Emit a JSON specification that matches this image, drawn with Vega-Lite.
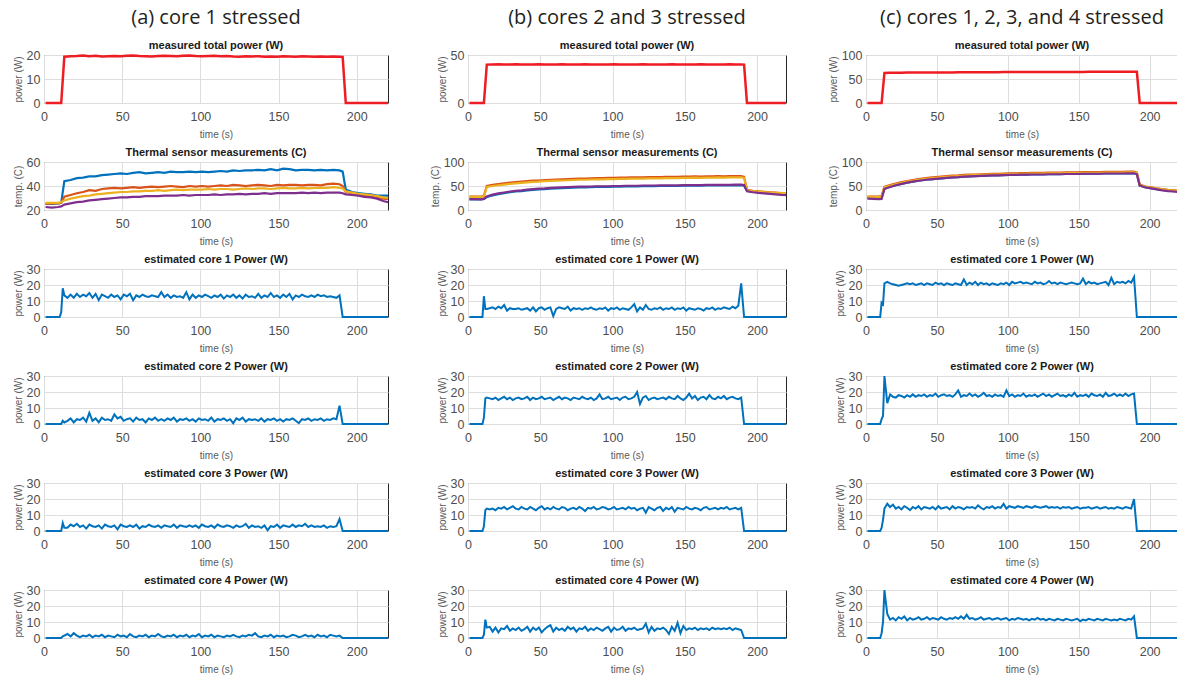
{
"$schema":"https://vega.github.io/schema/vega-lite/v6.json",
"padding":{"left":12,"top":7,"right":0,"bottom":0},
"config":{
 "font":"Liberation Sans",
 "view":{"stroke":"#262626","strokeWidth":1},
 "axis":{"grid":true,"gridColor":"#dedede","ticks":false,"domain":false,"labelFlush":false,"labelOverlap":false,"labelFont":"Liberation Sans","labelFontSize":12.5,"labelColor":"#4d4d4d","titleFont":"Liberation Sans Narrow, Liberation Sans","titleFontSize":10,"titleFontWeight":"normal","titleColor":"#595959"},
 "axisX":{"labelPadding":7,"titlePadding":7},
 "axisY":{"labelPadding":4,"titlePadding":3},
 "title":{"fontSize":11,"fontWeight":"bold","font":"Liberation Sans","color":"#1a1a1a","offset":-2,"anchor":"middle","frame":"group"},
 "line":{"strokeWidth":2,"color":"#0072BD"}
},
"datasets":{
"th":[
{"t":1,"aP":0,"bP":0,"cP":0,"aT1":25,"aT2":25,"aT3":26,"aT4":22.5,"bT1":22,"bT2":28,"bT3":27.5,"bT4":22.5,"cT1":26,"cT2":28,"cT3":27.5,"cT4":23.5},
{"t":5,"aP":0,"bP":0,"cP":0,"aT1":25,"aT2":25.5,"aT3":26,"aT4":22,"bT1":22,"bT2":28,"bT3":27.5,"bT4":22.5,"cT1":26,"cT2":28,"cT3":27.5,"cT4":23},
{"t":9,"aP":0,"bP":0,"cP":0,"aT1":25.5,"aT2":25.5,"aT3":26,"aT4":22.5,"bT1":22,"bT2":28,"bT3":27.5,"bT4":22,"cT1":26,"cT2":28.5,"cT3":27.5,"cT4":22.5},
{"t":11,"aP":0,"bP":0,"cP":0,"aT1":26,"aT2":26,"aT3":26.5,"aT4":23,"bT1":23,"bT2":29,"bT3":28,"bT4":23,"cT1":26.5,"cT2":29,"cT3":28,"cT4":23},
{"t":13,"aP":19.3,"bP":40,"cP":62.5,"aT1":44,"aT2":31,"aT3":28,"aT4":24.5,"bT1":27,"bT2":50,"bT3":48,"bT4":28,"cT1":45,"cT2":48,"cT3":47,"cT4":44},
{"t":17,"aP":19.5,"bP":40.2,"cP":63,"aT1":45,"aT2":32.5,"aT3":29.5,"aT4":25.5,"bT1":30.5,"bT2":52.5,"bT3":50,"bT4":32,"cT1":48.5,"cT2":52,"cT3":50.5,"cT4":48},
{"t":21,"aP":19.6,"bP":40.3,"cP":63.1,"aT1":46.5,"aT2":34,"aT3":30.5,"aT4":26.5,"bT1":33,"bT2":54,"bT3":51.5,"bT4":34.5,"cT1":51.5,"cT2":55,"cT3":53.5,"cT4":51.5},
{"t":25,"aP":19.8,"bP":40.1,"cP":63.2,"aT1":47,"aT2":35,"aT3":31.5,"aT4":27,"bT1":35,"bT2":55.5,"bT3":53,"bT4":36.5,"cT1":54.5,"cT2":58,"cT3":56.5,"cT4":54.5},
{"t":29,"aP":19.5,"bP":40.2,"cP":63.3,"aT1":48,"aT2":36.5,"aT3":32,"aT4":28,"bT1":37,"bT2":57,"bT3":54.5,"bT4":38.5,"cT1":57,"cT2":60.5,"cT3":59,"cT4":57},
{"t":33,"aP":19.7,"bP":40.3,"cP":63.3,"aT1":48,"aT2":36,"aT3":33,"aT4":28.5,"bT1":38.5,"bT2":58,"bT3":55.5,"bT4":40,"cT1":59,"cT2":62.5,"cT3":61,"cT4":59},
{"t":37,"aP":19.4,"bP":40.2,"cP":63.4,"aT1":49,"aT2":37.5,"aT3":33.5,"aT4":29,"bT1":39.5,"bT2":59,"bT3":56.5,"bT4":41,"cT1":61,"cT2":64.5,"cT3":63,"cT4":61},
{"t":41,"aP":19.5,"bP":40.1,"cP":63.5,"aT1":49.5,"aT2":38,"aT3":34,"aT4":29.5,"bT1":41,"bT2":60,"bT3":57.5,"bT4":42.5,"cT1":62.5,"cT2":66,"cT3":64.5,"cT4":62.5},
{"t":45,"aP":19.6,"bP":40.2,"cP":63.6,"aT1":50,"aT2":38.5,"aT3":34.5,"aT4":30,"bT1":42,"bT2":61,"bT3":58.5,"bT4":43.5,"cT1":64,"cT2":67.5,"cT3":66,"cT4":64},
{"t":49,"aP":19.5,"bP":40.3,"cP":63.6,"aT1":50.5,"aT2":38,"aT3":35,"aT4":30.5,"bT1":43,"bT2":61.5,"bT3":59,"bT4":44.5,"cT1":65,"cT2":68.5,"cT3":67,"cT4":65},
{"t":53,"aP":19.7,"bP":40.2,"cP":63.7,"aT1":50,"aT2":38.5,"aT3":35,"aT4":30.5,"bT1":43.5,"bT2":62.5,"bT3":60,"bT4":45,"cT1":66,"cT2":69.5,"cT3":68,"cT4":66},
{"t":57,"aP":19.8,"bP":40.1,"cP":63.8,"aT1":51,"aT2":39,"aT3":35.5,"aT4":31,"bT1":44.5,"bT2":63,"bT3":60.5,"bT4":46,"cT1":67,"cT2":70.5,"cT3":69,"cT4":67},
{"t":61,"aP":19.6,"bP":40.2,"cP":63.8,"aT1":51.5,"aT2":38.5,"aT3":35.5,"aT4":31,"bT1":45,"bT2":63.5,"bT3":61,"bT4":46.5,"cT1":68,"cT2":71.5,"cT3":70,"cT4":68},
{"t":65,"aP":19.5,"bP":40.3,"cP":63.9,"aT1":50.5,"aT2":39,"aT3":36,"aT4":31.5,"bT1":45.5,"bT2":64,"bT3":61.5,"bT4":47,"cT1":68.5,"cT2":72,"cT3":70.5,"cT4":68.5},
{"t":69,"aP":19.4,"bP":40.2,"cP":64,"aT1":51,"aT2":39.5,"aT3":36,"aT4":31.5,"bT1":46,"bT2":64.5,"bT3":62,"bT4":47.5,"cT1":69.5,"cT2":73,"cT3":71.5,"cT4":69.5},
{"t":73,"aP":19.6,"bP":40.2,"cP":64,"aT1":51.5,"aT2":39,"aT3":36.5,"aT4":31.5,"bT1":46.5,"bT2":65,"bT3":62.5,"bT4":48,"cT1":70,"cT2":73.5,"cT3":72,"cT4":70},
{"t":77,"aP":19.7,"bP":40.1,"cP":64.1,"aT1":51,"aT2":39.5,"aT3":36,"aT4":32,"bT1":47,"bT2":65.5,"bT3":63,"bT4":48.5,"cT1":70.5,"cT2":74,"cT3":72.5,"cT4":70.5},
{"t":81,"aP":19.6,"bP":40.3,"cP":64.2,"aT1":52,"aT2":40,"aT3":36.5,"aT4":32,"bT1":47,"bT2":65.5,"bT3":63,"bT4":48.5,"cT1":71,"cT2":74.5,"cT3":73,"cT4":71},
{"t":85,"aP":19.5,"bP":40.2,"cP":64.2,"aT1":51.5,"aT2":39.5,"aT3":37,"aT4":32,"bT1":47.5,"bT2":66,"bT3":63.5,"bT4":49,"cT1":71.5,"cT2":75,"cT3":73.5,"cT4":71.5},
{"t":89,"aP":19.7,"bP":40.2,"cP":64.3,"aT1":51.5,"aT2":39,"aT3":36.5,"aT4":32.5,"bT1":48,"bT2":66.5,"bT3":64,"bT4":49.5,"cT1":72,"cT2":75.5,"cT3":74,"cT4":72},
{"t":93,"aP":19.8,"bP":40.1,"cP":64.3,"aT1":52,"aT2":40,"aT3":37,"aT4":32,"bT1":48,"bT2":66.5,"bT3":64,"bT4":49.5,"cT1":72,"cT2":75.5,"cT3":74,"cT4":72},
{"t":97,"aP":19.6,"bP":40.2,"cP":64.4,"aT1":51.5,"aT2":39.5,"aT3":37,"aT4":32.5,"bT1":48,"bT2":67,"bT3":64.5,"bT4":49.5,"cT1":72.5,"cT2":76,"cT3":74.5,"cT4":72.5},
{"t":101,"aP":19.5,"bP":40.3,"cP":64.4,"aT1":52,"aT2":40,"aT3":37,"aT4":32.5,"bT1":48.5,"bT2":67,"bT3":64.5,"bT4":50,"cT1":73,"cT2":76.5,"cT3":75,"cT4":73},
{"t":105,"aP":19.6,"bP":40.2,"cP":64.5,"aT1":51.5,"aT2":39.5,"aT3":37.5,"aT4":32.5,"bT1":48.5,"bT2":67.5,"bT3":65,"bT4":50,"cT1":73,"cT2":76.5,"cT3":75,"cT4":73},
{"t":109,"aP":19.7,"bP":40.2,"cP":64.5,"aT1":52,"aT2":40,"aT3":37,"aT4":33,"bT1":49,"bT2":67.5,"bT3":65,"bT4":50.5,"cT1":73.5,"cT2":77,"cT3":75.5,"cT4":73.5},
{"t":113,"aP":19.5,"bP":40.1,"cP":64.5,"aT1":52.5,"aT2":40.5,"aT3":37.5,"aT4":32.5,"bT1":49,"bT2":68,"bT3":65.5,"bT4":50.5,"cT1":73.5,"cT2":77,"cT3":75.5,"cT4":73.5},
{"t":117,"aP":19.6,"bP":40.2,"cP":64.6,"aT1":52,"aT2":40,"aT3":37.5,"aT4":33,"bT1":49,"bT2":68,"bT3":65.5,"bT4":50.5,"cT1":74,"cT2":77.5,"cT3":76,"cT4":74},
{"t":121,"aP":19.4,"bP":40.3,"cP":64.6,"aT1":53,"aT2":41,"aT3":37,"aT4":33,"bT1":49.5,"bT2":68,"bT3":65.5,"bT4":51,"cT1":74,"cT2":77.5,"cT3":76,"cT4":74},
{"t":125,"aP":19.3,"bP":40.2,"cP":64.6,"aT1":52.5,"aT2":40.5,"aT3":37.5,"aT4":33.5,"bT1":49.5,"bT2":68.5,"bT3":66,"bT4":51,"cT1":74,"cT2":77.5,"cT3":76,"cT4":74},
{"t":129,"aP":19.5,"bP":40.2,"cP":64.7,"aT1":53,"aT2":40,"aT3":38,"aT4":33,"bT1":49.5,"bT2":68.5,"bT3":66,"bT4":51,"cT1":74.5,"cT2":78,"cT3":76.5,"cT4":74.5},
{"t":133,"aP":19.4,"bP":40.1,"cP":64.7,"aT1":53,"aT2":40.5,"aT3":37.5,"aT4":33.5,"bT1":50,"bT2":68.5,"bT3":66,"bT4":51.5,"cT1":74.5,"cT2":78,"cT3":76.5,"cT4":74.5},
{"t":137,"aP":19.5,"bP":40.2,"cP":64.7,"aT1":53.5,"aT2":41,"aT3":38,"aT4":33.5,"bT1":50,"bT2":69,"bT3":66.5,"bT4":51.5,"cT1":74.5,"cT2":78,"cT3":76.5,"cT4":74.5},
{"t":141,"aP":19.3,"bP":40.3,"cP":64.8,"aT1":53,"aT2":40.5,"aT3":38,"aT4":34,"bT1":50,"bT2":69,"bT3":66.5,"bT4":51.5,"cT1":75,"cT2":78.5,"cT3":77,"cT4":75},
{"t":145,"aP":19.4,"bP":40.2,"cP":64.8,"aT1":54,"aT2":40,"aT3":37.5,"aT4":33.5,"bT1":50,"bT2":69,"bT3":66.5,"bT4":51.5,"cT1":75,"cT2":78.5,"cT3":77,"cT4":75},
{"t":149,"aP":19.3,"bP":40.2,"cP":64.8,"aT1":53,"aT2":41,"aT3":38,"aT4":34,"bT1":50.5,"bT2":69.5,"bT3":67,"bT4":52,"cT1":75,"cT2":78.5,"cT3":77,"cT4":75},
{"t":153,"aP":19.5,"bP":40.1,"cP":64.8,"aT1":54.5,"aT2":40.5,"aT3":38.5,"aT4":34,"bT1":50.5,"bT2":69.5,"bT3":67,"bT4":52,"cT1":75.5,"cT2":79,"cT3":77.5,"cT4":75.5},
{"t":157,"aP":19.4,"bP":40.2,"cP":64.9,"aT1":54,"aT2":41,"aT3":38,"aT4":34,"bT1":50.5,"bT2":70,"bT3":67.5,"bT4":52,"cT1":75.5,"cT2":79,"cT3":77.5,"cT4":75.5},
{"t":161,"aP":19.3,"bP":40.3,"cP":64.9,"aT1":53,"aT2":41,"aT3":38,"aT4":34,"bT1":50.5,"bT2":69.5,"bT3":67,"bT4":52,"cT1":75.5,"cT2":79,"cT3":77.5,"cT4":75.5},
{"t":165,"aP":19.5,"bP":40.2,"cP":64.9,"aT1":53.5,"aT2":40.5,"aT3":38.5,"aT4":34.5,"bT1":51,"bT2":70,"bT3":67.5,"bT4":52.5,"cT1":75.5,"cT2":79,"cT3":77.5,"cT4":75.5},
{"t":169,"aP":19.4,"bP":40.2,"cP":64.9,"aT1":53.5,"aT2":41,"aT3":38,"aT4":34,"bT1":51,"bT2":70,"bT3":67.5,"bT4":52.5,"cT1":76,"cT2":79.5,"cT3":78,"cT4":76},
{"t":173,"aP":19.3,"bP":40.1,"cP":65,"aT1":53,"aT2":41,"aT3":38.5,"aT4":34.5,"bT1":51,"bT2":70.5,"bT3":68,"bT4":52.5,"cT1":76,"cT2":79.5,"cT3":78,"cT4":76},
{"t":177,"aP":19.4,"bP":40.2,"cP":65,"aT1":53.5,"aT2":40.5,"aT3":38.5,"aT4":34,"bT1":51,"bT2":70,"bT3":67.5,"bT4":52.5,"cT1":76,"cT2":79.5,"cT3":78,"cT4":76},
{"t":181,"aP":19.3,"bP":40.3,"cP":65,"aT1":53,"aT2":41.5,"aT3":38.5,"aT4":34.5,"bT1":51,"bT2":70.5,"bT3":68,"bT4":52.5,"cT1":76,"cT2":79.5,"cT3":78,"cT4":76},
{"t":185,"aP":19.4,"bP":40.2,"cP":65,"aT1":53.5,"aT2":42,"aT3":39,"aT4":34.5,"bT1":51.5,"bT2":70.5,"bT3":68,"bT4":53,"cT1":76.5,"cT2":80,"cT3":78.5,"cT4":76.5},
{"t":189,"aP":19.3,"bP":40.2,"cP":65,"aT1":53,"aT2":41.5,"aT3":38.5,"aT4":34.5,"bT1":51.5,"bT2":70.5,"bT3":68,"bT4":53,"cT1":76.5,"cT2":80,"cT3":78.5,"cT4":76.5},
{"t":191,"aP":19.2,"bP":40,"cP":65,"aT1":52,"aT2":40,"aT3":38,"aT4":34,"bT1":50.5,"bT2":69,"bT3":67,"bT4":52,"cT1":75,"cT2":78,"cT3":77,"cT4":74.5},
{"t":193,"aP":0,"bP":0,"cP":0,"aT1":37,"aT2":35,"aT3":35.5,"aT4":33,"bT1":40,"bT2":42,"bT3":41,"bT4":39,"cT1":51,"cT2":53,"cT3":52,"cT4":51},
{"t":197,"aP":0,"bP":0,"cP":0,"aT1":35,"aT2":34,"aT3":34.5,"aT4":32.5,"bT1":38,"bT2":40,"bT3":39.5,"bT4":37,"cT1":47.5,"cT2":49,"cT3":48.5,"cT4":47},
{"t":201,"aP":0,"bP":0,"cP":0,"aT1":34,"aT2":33,"aT3":33.5,"aT4":32,"bT1":36.5,"bT2":39,"bT3":38.5,"bT4":35.5,"cT1":45.5,"cT2":47,"cT3":46.5,"cT4":45},
{"t":205,"aP":0,"bP":0,"cP":0,"aT1":33.5,"aT2":32.5,"aT3":33,"aT4":31,"bT1":35.5,"bT2":38,"bT3":37.5,"bT4":34.5,"cT1":43.5,"cT2":45,"cT3":44.5,"cT4":43},
{"t":209,"aP":0,"bP":0,"cP":0,"aT1":33,"aT2":32,"aT3":32.5,"aT4":30.5,"bT1":34.5,"bT2":37,"bT3":36.5,"bT4":33.5,"cT1":42,"cT2":43.5,"cT3":43,"cT4":41},
{"t":213,"aP":0,"bP":0,"cP":0,"aT1":32,"aT2":30.5,"aT3":31.5,"aT4":29.5,"bT1":33.5,"bT2":36,"bT3":35.5,"bT4":32.5,"cT1":40.5,"cT2":42,"cT3":41.5,"cT4":39.5},
{"t":217,"aP":0,"bP":0,"cP":0,"aT1":32,"aT2":29.5,"aT3":30.5,"aT4":27.5,"bT1":33,"bT2":35,"bT3":35,"bT4":31.5,"cT1":39.5,"cT2":41,"cT3":40.5,"cT4":38.5},
{"t":220,"aP":0,"bP":0,"cP":0,"aT1":32,"aT2":29,"aT3":30,"aT4":26.5,"bT1":32.5,"bT2":34.5,"bT3":35,"bT4":31,"cT1":39,"cT2":40,"cT3":39.5,"cT4":37.5}
],
"core":[
{"t":1,"a1":0,"a2":0,"a3":0,"a4":0,"b1":0,"b2":0,"b3":0,"b4":0,"c1":0,"c2":0,"c3":0,"c4":0},
{"t":10,"a1":0,"a2":0,"a3":0,"a4":0,"b1":0,"b2":0,"b3":0,"b4":0,"c1":0,"c2":0,"c3":0,"c4":0},
{"t":11,"a1":3,"a2":0,"a3":0,"a4":0,"b1":13,"b2":4,"b3":3,"b4":2,"c1":9,"c2":3,"c3":2,"c4":3},
{"t":12,"a1":18,"a2":2,"a3":5,"a4":1,"b1":5,"b2":16,"b3":13,"b4":11.5,"c1":8,"c2":5,"c3":7,"c4":10},
{"t":13,"a1":13.5,"a2":1,"a3":2,"a4":1.5,"b1":5,"b2":16.5,"b3":14,"b4":6.5,"c1":21,"c2":30,"c3":14,"c4":30},
{"t":15,"a1":12,"a2":2,"a3":2,"a4":2.5,"b1":5.5,"b2":16,"b3":13.5,"b4":7,"c1":22,"c2":13,"c3":17,"c4":15},
{"t":17,"a1":14,"a2":3.5,"a3":4,"a4":1,"b1":6,"b2":15.5,"b3":14,"b4":4,"c1":21,"c2":18.5,"c3":15,"c4":11.5},
{"t":19,"a1":12,"a2":1,"a3":3,"a4":3,"b1":5,"b2":16.5,"b3":13,"b4":6.5,"c1":20.5,"c2":17,"c3":16.5,"c4":12.5},
{"t":21,"a1":14.5,"a2":3,"a3":4.5,"a4":1.5,"b1":6.5,"b2":15,"b3":14.5,"b4":3.5,"c1":20,"c2":16.5,"c3":14,"c4":11},
{"t":23,"a1":12.5,"a2":2.5,"a3":2.5,"a4":0.5,"b1":5.5,"b2":16,"b3":14,"b4":6,"c1":19.5,"c2":18,"c3":15,"c4":13},
{"t":25,"a1":14,"a2":4,"a3":3.5,"a4":1.5,"b1":7.5,"b2":17,"b3":15,"b4":5.5,"c1":20,"c2":17.5,"c3":13.5,"c4":12},
{"t":27,"a1":13,"a2":1.5,"a3":1.5,"a4":1,"b1":4,"b2":15.5,"b3":13.5,"b4":7.5,"c1":20.5,"c2":16.5,"c3":15.5,"c4":13.5},
{"t":29,"a1":15,"a2":7,"a3":4,"a4":2,"b1":5.5,"b2":16.5,"b3":14.5,"b4":4.5,"c1":21,"c2":18,"c3":14.5,"c4":11},
{"t":31,"a1":12,"a2":2,"a3":3,"a4":0.5,"b1":5,"b2":15,"b3":15.5,"b4":6,"c1":20.5,"c2":17,"c3":13,"c4":12.5},
{"t":33,"a1":14.5,"a2":3.5,"a3":2.5,"a4":1.5,"b1":5,"b2":16,"b3":14,"b4":5,"c1":21,"c2":18.5,"c3":15,"c4":11.5},
{"t":35,"a1":10.5,"a2":1,"a3":3.5,"a4":1,"b1":5.5,"b2":16.5,"b3":13.5,"b4":6.5,"c1":20,"c2":17,"c3":14,"c4":12},
{"t":37,"a1":14,"a2":4,"a3":1.5,"a4":2,"b1":4.5,"b2":15.5,"b3":15,"b4":4.5,"c1":20.5,"c2":18,"c3":15.5,"c4":13},
{"t":39,"a1":13,"a2":2.5,"a3":4,"a4":0.5,"b1":5,"b2":16,"b3":14,"b4":5.5,"c1":21,"c2":17.5,"c3":13.5,"c4":11.5},
{"t":41,"a1":12,"a2":3,"a3":3,"a4":1.5,"b1":5.5,"b2":17,"b3":13.5,"b4":7,"c1":20,"c2":18.5,"c3":15,"c4":12},
{"t":43,"a1":14,"a2":2,"a3":2.5,"a4":1,"b1":4,"b2":15,"b3":15,"b4":4,"c1":21,"c2":17,"c3":14.5,"c4":13},
{"t":45,"a1":12.5,"a2":6,"a3":3.5,"a4":0.5,"b1":6,"b2":16.5,"b3":14,"b4":6.5,"c1":20.5,"c2":18,"c3":14,"c4":11.5},
{"t":47,"a1":13.5,"a2":3.5,"a3":1,"a4":2,"b1":3.5,"b2":15.5,"b3":13,"b4":5,"c1":20,"c2":17.5,"c3":15,"c4":12.5},
{"t":49,"a1":11,"a2":4.5,"a3":4,"a4":1,"b1":5.5,"b2":16,"b3":14.5,"b4":6.5,"c1":21.5,"c2":19,"c3":13.5,"c4":12},
{"t":51,"a1":14,"a2":2,"a3":3,"a4":1.5,"b1":6,"b2":17,"b3":15.5,"b4":3.5,"c1":20.5,"c2":17,"c3":15.5,"c4":11.5},
{"t":53,"a1":13,"a2":3,"a3":2.5,"a4":0.5,"b1":4.5,"b2":15.5,"b3":13.5,"b4":5.5,"c1":21,"c2":18,"c3":14,"c4":13},
{"t":55,"a1":14.5,"a2":3.5,"a3":3.5,"a4":2.5,"b1":5.5,"b2":16,"b3":14.5,"b4":7,"c1":20,"c2":18.5,"c3":14.5,"c4":12},
{"t":57,"a1":10.5,"a2":1.5,"a3":2.5,"a4":1,"b1":6,"b2":16.5,"b3":13.5,"b4":8,"c1":21,"c2":17.5,"c3":15,"c4":11.5},
{"t":59,"a1":13.5,"a2":4,"a3":4,"a4":0.5,"b1":0.5,"b2":15,"b3":15,"b4":4,"c1":20.5,"c2":18,"c3":13.5,"c4":12.5},
{"t":61,"a1":12.5,"a2":2.5,"a3":1.5,"a4":1.5,"b1":5,"b2":16,"b3":14,"b4":6.5,"c1":20,"c2":17,"c3":15.5,"c4":12},
{"t":63,"a1":14,"a2":3,"a3":3,"a4":1,"b1":6,"b2":17,"b3":13.5,"b4":5,"c1":21,"c2":18.5,"c3":14,"c4":13},
{"t":65,"a1":13,"a2":1,"a3":2.5,"a4":2,"b1":5.5,"b2":15.5,"b3":15,"b4":6,"c1":20.5,"c2":21,"c3":15,"c4":12},
{"t":67,"a1":12.5,"a2":3.5,"a3":4,"a4":0.5,"b1":5,"b2":16.5,"b3":14.5,"b4":4.5,"c1":20,"c2":17,"c3":14.5,"c4":13.5},
{"t":69,"a1":13.5,"a2":2.5,"a3":3,"a4":1.5,"b1":6.5,"b2":16,"b3":13,"b4":7,"c1":23.5,"c2":18,"c3":13.5,"c4":12},
{"t":71,"a1":13,"a2":4,"a3":2.5,"a4":1,"b1":4,"b2":15,"b3":14,"b4":5.5,"c1":20,"c2":17.5,"c3":15,"c4":14.5},
{"t":73,"a1":12.5,"a2":2,"a3":3.5,"a4":2.5,"b1":5.5,"b2":16.5,"b3":14.5,"b4":6.5,"c1":21.5,"c2":19,"c3":14.5,"c4":12},
{"t":75,"a1":15.5,"a2":3,"a3":2,"a4":1,"b1":5,"b2":16,"b3":13.5,"b4":4,"c1":20.5,"c2":17.5,"c3":15,"c4":12.5},
{"t":77,"a1":12.5,"a2":2,"a3":3.5,"a4":0.5,"b1":5.5,"b2":15.5,"b3":15,"b4":6,"c1":22,"c2":18.5,"c3":14,"c4":11.5},
{"t":79,"a1":14,"a2":3.5,"a3":3,"a4":1.5,"b1":4.5,"b2":17,"b3":14,"b4":5.5,"c1":20,"c2":17,"c3":16,"c4":12},
{"t":81,"a1":12,"a2":2.5,"a3":2.5,"a4":1,"b1":5.5,"b2":16,"b3":12.5,"b4":7,"c1":21.5,"c2":18,"c3":14.5,"c4":13},
{"t":83,"a1":13.5,"a2":4,"a3":4,"a4":2,"b1":5,"b2":15.5,"b3":14.5,"b4":4.5,"c1":20.5,"c2":19.5,"c3":13.5,"c4":11.5},
{"t":85,"a1":12.5,"a2":1.5,"a3":2,"a4":0.5,"b1":6,"b2":16.5,"b3":14,"b4":6,"c1":21,"c2":17.5,"c3":15,"c4":12},
{"t":87,"a1":13,"a2":3,"a3":3.5,"a4":1.5,"b1":5,"b2":15,"b3":15,"b4":5,"c1":20,"c2":18,"c3":14.5,"c4":12.5},
{"t":89,"a1":12,"a2":2.5,"a3":3,"a4":1,"b1":4.5,"b2":16,"b3":13.5,"b4":6.5,"c1":21,"c2":17,"c3":15.5,"c4":11.5},
{"t":91,"a1":15.5,"a2":3.5,"a3":2.5,"a4":2,"b1":5.5,"b2":18.5,"b3":14,"b4":5.5,"c1":20.5,"c2":18.5,"c3":14,"c4":12},
{"t":93,"a1":11,"a2":2,"a3":3.5,"a4":0.5,"b1":5,"b2":15.5,"b3":15,"b4":4.5,"c1":20,"c2":17.5,"c3":15,"c4":12.5},
{"t":95,"a1":14,"a2":3,"a3":2.5,"a4":1.5,"b1":6,"b2":16,"b3":14.5,"b4":6,"c1":21,"c2":18,"c3":14.5,"c4":11.5},
{"t":97,"a1":12,"a2":1.5,"a3":3.5,"a4":1,"b1":4,"b2":17,"b3":13.5,"b4":7,"c1":20.5,"c2":17,"c3":17,"c4":12},
{"t":99,"a1":13.5,"a2":3.5,"a3":2,"a4":2.5,"b1":5.5,"b2":15.5,"b3":14,"b4":4,"c1":21.5,"c2":21,"c3":14,"c4":12.5},
{"t":101,"a1":12.5,"a2":2.5,"a3":4,"a4":0.5,"b1":5,"b2":16,"b3":15,"b4":6.5,"c1":20,"c2":17.5,"c3":15.5,"c4":11},
{"t":103,"a1":14,"a2":3,"a3":3,"a4":1.5,"b1":6,"b2":16.5,"b3":13.5,"b4":5,"c1":22,"c2":18.5,"c3":15,"c4":12},
{"t":105,"a1":13,"a2":2,"a3":2.5,"a4":1,"b1":4.5,"b2":15,"b3":14,"b4":5.5,"c1":21,"c2":17,"c3":14.5,"c4":11.5},
{"t":107,"a1":12,"a2":4,"a3":3.5,"a4":2,"b1":5.5,"b2":16.5,"b3":14.5,"b4":7,"c1":21.5,"c2":18,"c3":15.5,"c4":12.5},
{"t":109,"a1":13.5,"a2":1.5,"a3":2,"a4":0.5,"b1":5,"b2":17,"b3":13.5,"b4":4.5,"c1":22,"c2":17.5,"c3":15,"c4":12},
{"t":111,"a1":12.5,"a2":3,"a3":4,"a4":1.5,"b1":4.5,"b2":15.5,"b3":15,"b4":6,"c1":21,"c2":19,"c3":14.5,"c4":11.5},
{"t":113,"a1":14,"a2":2.5,"a3":3,"a4":1,"b1":6,"b2":16,"b3":14,"b4":5.5,"c1":21.5,"c2":17,"c3":15.5,"c4":12},
{"t":115,"a1":11.5,"a2":3.5,"a3":2.5,"a4":0.5,"b1":8,"b2":17,"b3":14.5,"b4":6.5,"c1":21,"c2":18,"c3":15,"c4":11},
{"t":117,"a1":13.5,"a2":2,"a3":3.5,"a4":1.5,"b1":3.5,"b2":20,"b3":13,"b4":5,"c1":20.5,"c2":17.5,"c3":14.5,"c4":12},
{"t":119,"a1":12.5,"a2":3,"a3":3,"a4":1,"b1":6,"b2":12.5,"b3":14,"b4":5.5,"c1":22,"c2":18.5,"c3":15.5,"c4":11.5},
{"t":121,"a1":14,"a2":0.5,"a3":2,"a4":2,"b1":4.5,"b2":16.5,"b3":14.5,"b4":6,"c1":21,"c2":17,"c3":15,"c4":12.5},
{"t":123,"a1":12,"a2":3.5,"a3":3.5,"a4":1,"b1":7.5,"b2":17.5,"b3":11.5,"b4":9,"c1":21.5,"c2":18,"c3":14.5,"c4":11.5},
{"t":125,"a1":13.5,"a2":2.5,"a3":2.5,"a4":0.5,"b1":5,"b2":15,"b3":15,"b4":3.5,"c1":20.5,"c2":19,"c3":15,"c4":12},
{"t":127,"a1":11.5,"a2":4,"a3":3,"a4":1.5,"b1":4.5,"b2":16,"b3":14,"b4":7,"c1":21,"c2":17.5,"c3":15.5,"c4":11},
{"t":129,"a1":14,"a2":1.5,"a3":4.5,"a4":1,"b1":5.5,"b2":16.5,"b3":13,"b4":4.5,"c1":22.5,"c2":18.5,"c3":14.5,"c4":12},
{"t":131,"a1":12.5,"a2":3,"a3":2,"a4":2,"b1":5,"b2":15.5,"b3":14.5,"b4":6,"c1":21,"c2":17,"c3":15,"c4":11.5},
{"t":133,"a1":13,"a2":2.5,"a3":3.5,"a4":1.5,"b1":6,"b2":16,"b3":15,"b4":5.5,"c1":21.5,"c2":18,"c3":14.5,"c4":11},
{"t":135,"a1":12,"a2":3,"a3":2.5,"a4":3,"b1":4.5,"b2":16.5,"b3":12.5,"b4":6.5,"c1":20.5,"c2":19,"c3":15,"c4":12},
{"t":137,"a1":14.5,"a2":2,"a3":3,"a4":1,"b1":5.5,"b2":15.5,"b3":14.5,"b4":5,"c1":21.5,"c2":17.5,"c3":14,"c4":11.5},
{"t":139,"a1":12,"a2":3.5,"a3":2,"a4":0.5,"b1":5,"b2":17,"b3":13.5,"b4":2.5,"c1":21,"c2":18,"c3":15,"c4":11},
{"t":141,"a1":13.5,"a2":1.5,"a3":3.5,"a4":1.5,"b1":6,"b2":16,"b3":15,"b4":7,"c1":20.5,"c2":17,"c3":14.5,"c4":12},
{"t":143,"a1":12.5,"a2":3,"a3":0.5,"a4":1,"b1":4.5,"b2":15.5,"b3":12,"b4":4.5,"c1":21,"c2":18.5,"c3":15,"c4":11.5},
{"t":145,"a1":15,"a2":2.5,"a3":3,"a4":2,"b1":5.5,"b2":17.5,"b3":14.5,"b4":9.5,"c1":21.5,"c2":17.5,"c3":14,"c4":11},
{"t":147,"a1":12.5,"a2":3.5,"a3":2.5,"a4":0.5,"b1":5,"b2":16,"b3":14,"b4":3,"c1":21,"c2":19.5,"c3":14.5,"c4":11.5},
{"t":149,"a1":13.5,"a2":2,"a3":4,"a4":1.5,"b1":6,"b2":15,"b3":13.5,"b4":7.5,"c1":20.5,"c2":17,"c3":15,"c4":12},
{"t":151,"a1":12,"a2":3,"a3":2,"a4":1,"b1":4,"b2":16.5,"b3":15,"b4":5,"c1":21,"c2":18,"c3":14,"c4":10.5},
{"t":153,"a1":14,"a2":1.5,"a3":3.5,"a4":1.5,"b1":5.5,"b2":19,"b3":14,"b4":6,"c1":24,"c2":17.5,"c3":14.5,"c4":11.5},
{"t":155,"a1":12.5,"a2":3,"a3":3,"a4":0.5,"b1":5,"b2":16,"b3":13.5,"b4":5.5,"c1":20.5,"c2":18.5,"c3":14.5,"c4":11},
{"t":157,"a1":14.5,"a2":2.5,"a3":2.5,"a4":1,"b1":4.5,"b2":17.5,"b3":14.5,"b4":6.5,"c1":22,"c2":17,"c3":15,"c4":12},
{"t":159,"a1":11,"a2":3.5,"a3":4,"a4":2,"b1":5.5,"b2":15,"b3":14,"b4":5,"c1":21,"c2":19,"c3":14,"c4":11.5},
{"t":161,"a1":13.5,"a2":2,"a3":2.5,"a4":1.5,"b1":5,"b2":16.5,"b3":13,"b4":6,"c1":21.5,"c2":18,"c3":14.5,"c4":11},
{"t":163,"a1":12.5,"a2":0.5,"a3":3.5,"a4":0.5,"b1":4,"b2":17,"b3":14.5,"b4":5.5,"c1":20.5,"c2":17.5,"c3":15,"c4":12},
{"t":165,"a1":14,"a2":3,"a3":3,"a4":1,"b1":5.5,"b2":15.5,"b3":15,"b4":6,"c1":21,"c2":18.5,"c3":14,"c4":11.5},
{"t":167,"a1":13,"a2":2.5,"a3":4.5,"a4":2,"b1":5,"b2":18,"b3":13.5,"b4":5,"c1":21.5,"c2":17,"c3":14.5,"c4":11},
{"t":169,"a1":12.5,"a2":3.5,"a3":2.5,"a4":1,"b1":6,"b2":16,"b3":14,"b4":6.5,"c1":22,"c2":19.5,"c3":15,"c4":12},
{"t":171,"a1":13.5,"a2":2,"a3":3.5,"a4":1.5,"b1":4.5,"b2":15.5,"b3":14.5,"b4":5.5,"c1":20,"c2":17.5,"c3":14,"c4":11.5},
{"t":173,"a1":12.5,"a2":3,"a3":2.5,"a4":0.5,"b1":5.5,"b2":17,"b3":13.5,"b4":6,"c1":24.5,"c2":18,"c3":14.5,"c4":11},
{"t":175,"a1":14,"a2":2.5,"a3":3,"a4":2,"b1":5,"b2":16,"b3":14.5,"b4":5.5,"c1":20.5,"c2":19,"c3":14,"c4":11.5},
{"t":177,"a1":13,"a2":3.5,"a3":2.5,"a4":1,"b1":6,"b2":17.5,"b3":14,"b4":6,"c1":22,"c2":17.5,"c3":15,"c4":11},
{"t":179,"a1":13.5,"a2":2,"a3":3.5,"a4":1.5,"b1":5.5,"b2":15.5,"b3":15,"b4":5.5,"c1":21.5,"c2":18.5,"c3":14.5,"c4":12},
{"t":181,"a1":12.5,"a2":3,"a3":2,"a4":0.5,"b1":5,"b2":16.5,"b3":13.5,"b4":6.5,"c1":22,"c2":17.5,"c3":14,"c4":11.5},
{"t":183,"a1":13,"a2":2.5,"a3":3,"a4":2,"b1":6.5,"b2":17,"b3":14,"b4":5,"c1":21,"c2":19,"c3":15,"c4":11},
{"t":185,"a1":12.5,"a2":3.5,"a3":2.5,"a4":1.5,"b1":5.5,"b2":16,"b3":14.5,"b4":6,"c1":22.5,"c2":17.5,"c3":14.5,"c4":12},
{"t":187,"a1":12,"a2":3,"a3":3,"a4":1,"b1":7,"b2":15.5,"b3":13.5,"b4":5.5,"c1":21.5,"c2":18.5,"c3":14,"c4":11.5},
{"t":189,"a1":13.5,"a2":11.5,"a3":7.5,"a4":1.5,"b1":21,"b2":16.5,"b3":14.5,"b4":5,"c1":25,"c2":19,"c3":20,"c4":13.5},
{"t":191,"a1":0,"a2":0,"a3":0,"a4":0,"b1":0,"b2":0,"b3":0,"b4":0,"c1":0,"c2":0,"c3":0,"c4":0},
{"t":220,"a1":0,"a2":0,"a3":0,"a4":0,"b1":0,"b2":0,"b3":0,"b4":0,"c1":0,"c2":0,"c3":0,"c4":0}
]
},
"spacing":35,
"hconcat":[
{"bounds":"flush","spacing":59,"vconcat":[
 {"width":344,"height":48,"data":{"name":"th"},
  "title":{"text":"(a) core 1 stressed","subtitle":"measured total power (W)","font":"Open Sans","fontSize":20,"fontWeight":"normal","color":"#231f20","subtitleFont":"Liberation Sans","subtitleFontSize":11,"subtitleFontWeight":"bold","subtitleColor":"#1a1a1a","subtitlePadding":12},
  "mark":{"type":"line","color":"#ee1d23","strokeWidth":2.5},
  "encoding":{"x":{"field":"t","type":"quantitative","scale":{"domain":[0,220],"nice":false,"zero":false},"axis":{"values":[0,50,100,150,200],"title":"time (s)"}},
   "y":{"field":"aP","type":"quantitative","scale":{"domain":[0,20],"nice":false},"axis":{"values":[0,10,20],"title":"power (W)"}}}},
 {"width":344,"height":48,"data":{"name":"th"},"title":"Thermal sensor measurements (C)",
  "encoding":{"x":{"field":"t","type":"quantitative","scale":{"domain":[0,220],"nice":false,"zero":false},"axis":{"values":[0,50,100,150,200],"title":"time (s)"}}},
  "layer":[
   {"mark":{"type":"line","color":"#0072BD","strokeWidth":2.2},"encoding":{"y":{"field":"aT1","type":"quantitative","scale":{"domain":[20,60],"nice":false,"zero":false},"axis":{"values":[20,40,60],"title":"temp. (C)"}}}},
   {"mark":{"type":"line","color":"#D95319","strokeWidth":2.2},"encoding":{"y":{"field":"aT2","type":"quantitative","axis":{"values":[20,40,60],"title":"temp. (C)"}}}},
   {"mark":{"type":"line","color":"#EDB120","strokeWidth":2.2},"encoding":{"y":{"field":"aT3","type":"quantitative","axis":{"values":[20,40,60],"title":"temp. (C)"}}}},
   {"mark":{"type":"line","color":"#7E2F8E","strokeWidth":2.2},"encoding":{"y":{"field":"aT4","type":"quantitative","axis":{"values":[20,40,60],"title":"temp. (C)"}}}}
  ]},
 {"width":344,"height":48,"data":{"name":"core"},"title":"estimated core 1 Power (W)","mark":{"type":"line"},
  "encoding":{"x":{"field":"t","type":"quantitative","scale":{"domain":[0,220],"nice":false,"zero":false},"axis":{"values":[0,50,100,150,200],"title":"time (s)"}},
   "y":{"field":"a1","type":"quantitative","scale":{"domain":[0,30],"nice":false},"axis":{"values":[0,10,20,30],"title":"power (W)"}}}},
 {"width":344,"height":48,"data":{"name":"core"},"title":"estimated core 2 Power (W)","mark":{"type":"line"},
  "encoding":{"x":{"field":"t","type":"quantitative","scale":{"domain":[0,220],"nice":false,"zero":false},"axis":{"values":[0,50,100,150,200],"title":"time (s)"}},
   "y":{"field":"a2","type":"quantitative","scale":{"domain":[0,30],"nice":false},"axis":{"values":[0,10,20,30],"title":"power (W)"}}}},
 {"width":344,"height":48,"data":{"name":"core"},"title":"estimated core 3 Power (W)","mark":{"type":"line"},
  "encoding":{"x":{"field":"t","type":"quantitative","scale":{"domain":[0,220],"nice":false,"zero":false},"axis":{"values":[0,50,100,150,200],"title":"time (s)"}},
   "y":{"field":"a3","type":"quantitative","scale":{"domain":[0,30],"nice":false},"axis":{"values":[0,10,20,30],"title":"power (W)"}}}},
 {"width":344,"height":48,"data":{"name":"core"},"title":"estimated core 4 Power (W)","mark":{"type":"line"},
  "encoding":{"x":{"field":"t","type":"quantitative","scale":{"domain":[0,220],"nice":false,"zero":false},"axis":{"values":[0,50,100,150,200],"title":"time (s)"}},
   "y":{"field":"a4","type":"quantitative","scale":{"domain":[0,30],"nice":false},"axis":{"values":[0,10,20,30],"title":"power (W)"}}}}
]},
{"bounds":"flush","spacing":59,"vconcat":[
 {"width":318,"height":48,"data":{"name":"th"},
  "title":{"text":"(b) cores 2 and 3 stressed","subtitle":"measured total power (W)","font":"Open Sans","fontSize":20,"fontWeight":"normal","color":"#231f20","subtitleFont":"Liberation Sans","subtitleFontSize":11,"subtitleFontWeight":"bold","subtitleColor":"#1a1a1a","subtitlePadding":12},
  "mark":{"type":"line","color":"#ee1d23","strokeWidth":2.5},
  "encoding":{"x":{"field":"t","type":"quantitative","scale":{"domain":[0,220],"nice":false,"zero":false},"axis":{"values":[0,50,100,150,200],"title":"time (s)"}},
   "y":{"field":"bP","type":"quantitative","scale":{"domain":[0,50],"nice":false},"axis":{"values":[0,50],"title":"power (W)"}}}},
 {"width":318,"height":48,"data":{"name":"th"},"title":"Thermal sensor measurements (C)",
  "encoding":{"x":{"field":"t","type":"quantitative","scale":{"domain":[0,220],"nice":false,"zero":false},"axis":{"values":[0,50,100,150,200],"title":"time (s)"}}},
  "layer":[
   {"mark":{"type":"line","color":"#0072BD","strokeWidth":2.2},"encoding":{"y":{"field":"bT1","type":"quantitative","scale":{"domain":[0,100],"nice":false},"axis":{"values":[0,50,100],"title":"temp. (C)"}}}},
   {"mark":{"type":"line","color":"#D95319","strokeWidth":2.2},"encoding":{"y":{"field":"bT2","type":"quantitative","axis":{"values":[0,50,100],"title":"temp. (C)"}}}},
   {"mark":{"type":"line","color":"#EDB120","strokeWidth":2.2},"encoding":{"y":{"field":"bT3","type":"quantitative","axis":{"values":[0,50,100],"title":"temp. (C)"}}}},
   {"mark":{"type":"line","color":"#7E2F8E","strokeWidth":2.2},"encoding":{"y":{"field":"bT4","type":"quantitative","axis":{"values":[0,50,100],"title":"temp. (C)"}}}}
  ]},
 {"width":318,"height":48,"data":{"name":"core"},"title":"estimated core 1 Power (W)","mark":{"type":"line"},
  "encoding":{"x":{"field":"t","type":"quantitative","scale":{"domain":[0,220],"nice":false,"zero":false},"axis":{"values":[0,50,100,150,200],"title":"time (s)"}},
   "y":{"field":"b1","type":"quantitative","scale":{"domain":[0,30],"nice":false},"axis":{"values":[0,10,20,30],"title":"power (W)"}}}},
 {"width":318,"height":48,"data":{"name":"core"},"title":"estimated core 2 Power (W)","mark":{"type":"line"},
  "encoding":{"x":{"field":"t","type":"quantitative","scale":{"domain":[0,220],"nice":false,"zero":false},"axis":{"values":[0,50,100,150,200],"title":"time (s)"}},
   "y":{"field":"b2","type":"quantitative","scale":{"domain":[0,30],"nice":false},"axis":{"values":[0,10,20,30],"title":"power (W)"}}}},
 {"width":318,"height":48,"data":{"name":"core"},"title":"estimated core 3 Power (W)","mark":{"type":"line"},
  "encoding":{"x":{"field":"t","type":"quantitative","scale":{"domain":[0,220],"nice":false,"zero":false},"axis":{"values":[0,50,100,150,200],"title":"time (s)"}},
   "y":{"field":"b3","type":"quantitative","scale":{"domain":[0,30],"nice":false},"axis":{"values":[0,10,20,30],"title":"power (W)"}}}},
 {"width":318,"height":48,"data":{"name":"core"},"title":"estimated core 4 Power (W)","mark":{"type":"line"},
  "encoding":{"x":{"field":"t","type":"quantitative","scale":{"domain":[0,220],"nice":false,"zero":false},"axis":{"values":[0,50,100,150,200],"title":"time (s)"}},
   "y":{"field":"b4","type":"quantitative","scale":{"domain":[0,30],"nice":false},"axis":{"values":[0,10,20,30],"title":"power (W)"}}}}
]},
{"bounds":"flush","spacing":59,"vconcat":[
 {"width":312,"height":48,"data":{"name":"th"},
  "title":{"text":"(c) cores 1, 2, 3, and 4 stressed","subtitle":"measured total power (W)","font":"Open Sans","fontSize":20,"fontWeight":"normal","color":"#231f20","subtitleFont":"Liberation Sans","subtitleFontSize":11,"subtitleFontWeight":"bold","subtitleColor":"#1a1a1a","subtitlePadding":12},
  "mark":{"type":"line","color":"#ee1d23","strokeWidth":2.5},
  "encoding":{"x":{"field":"t","type":"quantitative","scale":{"domain":[0,220],"nice":false,"zero":false},"axis":{"values":[0,50,100,150,200],"title":"time (s)"}},
   "y":{"field":"cP","type":"quantitative","scale":{"domain":[0,100],"nice":false},"axis":{"values":[0,50,100],"title":"power (W)"}}}},
 {"width":312,"height":48,"data":{"name":"th"},"title":"Thermal sensor measurements (C)",
  "encoding":{"x":{"field":"t","type":"quantitative","scale":{"domain":[0,220],"nice":false,"zero":false},"axis":{"values":[0,50,100,150,200],"title":"time (s)"}}},
  "layer":[
   {"mark":{"type":"line","color":"#0072BD","strokeWidth":2.2},"encoding":{"y":{"field":"cT1","type":"quantitative","scale":{"domain":[0,100],"nice":false},"axis":{"values":[0,50,100],"title":"temp. (C)"}}}},
   {"mark":{"type":"line","color":"#D95319","strokeWidth":2.2},"encoding":{"y":{"field":"cT2","type":"quantitative","axis":{"values":[0,50,100],"title":"temp. (C)"}}}},
   {"mark":{"type":"line","color":"#EDB120","strokeWidth":2.2},"encoding":{"y":{"field":"cT3","type":"quantitative","axis":{"values":[0,50,100],"title":"temp. (C)"}}}},
   {"mark":{"type":"line","color":"#7E2F8E","strokeWidth":2.2},"encoding":{"y":{"field":"cT4","type":"quantitative","axis":{"values":[0,50,100],"title":"temp. (C)"}}}}
  ]},
 {"width":312,"height":48,"data":{"name":"core"},"title":"estimated core 1 Power (W)","mark":{"type":"line"},
  "encoding":{"x":{"field":"t","type":"quantitative","scale":{"domain":[0,220],"nice":false,"zero":false},"axis":{"values":[0,50,100,150,200],"title":"time (s)"}},
   "y":{"field":"c1","type":"quantitative","scale":{"domain":[0,30],"nice":false},"axis":{"values":[0,10,20,30],"title":"power (W)"}}}},
 {"width":312,"height":48,"data":{"name":"core"},"title":"estimated core 2 Power (W)","mark":{"type":"line"},
  "encoding":{"x":{"field":"t","type":"quantitative","scale":{"domain":[0,220],"nice":false,"zero":false},"axis":{"values":[0,50,100,150,200],"title":"time (s)"}},
   "y":{"field":"c2","type":"quantitative","scale":{"domain":[0,30],"nice":false},"axis":{"values":[0,10,20,30],"title":"power (W)"}}}},
 {"width":312,"height":48,"data":{"name":"core"},"title":"estimated core 3 Power (W)","mark":{"type":"line"},
  "encoding":{"x":{"field":"t","type":"quantitative","scale":{"domain":[0,220],"nice":false,"zero":false},"axis":{"values":[0,50,100,150,200],"title":"time (s)"}},
   "y":{"field":"c3","type":"quantitative","scale":{"domain":[0,30],"nice":false},"axis":{"values":[0,10,20,30],"title":"power (W)"}}}},
 {"width":312,"height":48,"data":{"name":"core"},"title":"estimated core 4 Power (W)","mark":{"type":"line"},
  "encoding":{"x":{"field":"t","type":"quantitative","scale":{"domain":[0,220],"nice":false,"zero":false},"axis":{"values":[0,50,100,150,200],"title":"time (s)"}},
   "y":{"field":"c4","type":"quantitative","scale":{"domain":[0,30],"nice":false},"axis":{"values":[0,10,20,30],"title":"power (W)"}}}}
]}
]
}
